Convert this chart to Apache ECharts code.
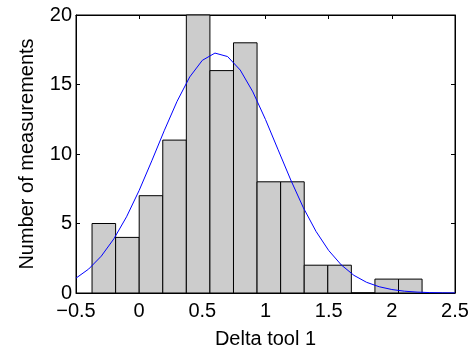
<!DOCTYPE html>
<html>
<head>
<meta charset="utf-8">
<script src="https://cdn.jsdelivr.net/npm/echarts@6/dist/echarts.min.js"></script>
<style>html,body{margin:0;padding:0;background:#fff;}#c{width:474px;height:354px;}</style>
</head>
<body>
<div id="c"></div>
<script>
// Histogram bin edges (15 edges -> 14 bins) and counts
const binEdges = [-0.373, -0.1864, 0.0002, 0.1868, 0.3734, 0.56, 0.7466, 0.9332, 1.1198, 1.3064, 1.493, 1.6796, 1.8662, 2.0528, 2.2394];
const counts = [5, 4, 7, 11, 20, 16, 18, 8, 8, 2, 2, 0, 1, 1];
// Fitted curve
const curveX = [-0.5, -0.4, -0.3, -0.2, -0.1, 0.0, 0.1, 0.2, 0.3, 0.4, 0.5, 0.6, 0.7, 0.8, 0.9, 1.0, 1.1, 1.2, 1.3, 1.4, 1.5, 1.6, 1.7, 1.8, 1.9, 2.0, 2.1, 2.2, 2.3, 2.4, 2.5];
const curveY = [1.07, 1.72, 2.65, 3.90, 5.48, 7.38, 9.51, 11.71, 13.79, 15.54, 16.74, 17.26, 17.01, 16.04, 14.47, 12.48, 10.30, 8.13, 6.13, 4.43, 3.06, 2.02, 1.27, 0.77, 0.45, 0.25, 0.13, 0.066, 0.03, 0.015, 0.006];
const xTicks = { min: -0.5, max: 2.5, interval: 0.5 };
const yTicks = { min: 0, max: 20, interval: 5 };
const xName = 'Delta tool 1';
const yName = 'Number of measurements';

const font = "'Liberation Sans', Arial, Helvetica, sans-serif";
const fs = 20;
const histData = counts.map((c, i) => [binEdges[i], binEdges[i + 1], c]);
const curveData = curveX.map((x, i) => [x, curveY[i]]);
const fmt = v => String(v).replace('-', '\u2212');

const chart = echarts.init(document.getElementById('c'), null, { renderer: 'canvas' });
chart.setOption({
  animation: false,
  backgroundColor: '#fff',
  grid: { left: 76, right: 19, top: 15, bottom: 58, show: true, borderColor: '#000', borderWidth: 1, backgroundColor: 'transparent' },
  xAxis: [{
    type: 'value', min: xTicks.min, max: xTicks.max, interval: xTicks.interval, position: 'bottom',
    name: xName, nameLocation: 'middle', nameGap: 36,
    nameTextStyle: { color: '#000', fontSize: fs, fontFamily: font },
    axisLine: { show: true, onZero: false, lineStyle: { color: '#000', width: 1 } },
    axisTick: { show: true, inside: true, length: 4, lineStyle: { color: '#000' } },
    axisLabel: { color: '#000', fontSize: fs, fontFamily: font, margin: 8, formatter: fmt },
    splitLine: { show: false }
  }, {
    type: 'value', min: xTicks.min, max: xTicks.max, interval: xTicks.interval, position: 'top',
    axisLine: { show: true, onZero: false, lineStyle: { color: '#000', width: 1 } },
    axisTick: { show: true, inside: true, length: 4, lineStyle: { color: '#000' } },
    axisLabel: { show: false }, splitLine: { show: false }
  }],
  yAxis: [{
    type: 'value', min: yTicks.min, max: yTicks.max, interval: yTicks.interval, position: 'left',
    name: yName, nameLocation: 'middle', nameGap: 39, nameRotate: 90,
    nameTextStyle: { color: '#000', fontSize: fs, fontFamily: font },
    axisLine: { show: true, onZero: false, lineStyle: { color: '#000', width: 1 } },
    axisTick: { show: true, inside: true, length: 4, lineStyle: { color: '#000' } },
    axisLabel: { color: '#000', fontSize: fs, fontFamily: font, margin: 4 },
    splitLine: { show: false }
  }, {
    type: 'value', min: yTicks.min, max: yTicks.max, interval: yTicks.interval, position: 'right',
    axisLine: { show: true, onZero: false, lineStyle: { color: '#000', width: 1 } },
    axisTick: { show: true, inside: true, length: 4, lineStyle: { color: '#000' } },
    axisLabel: { show: false }, splitLine: { show: false }
  }],
  series: [{
    type: 'custom',
    xAxisIndex: 0, yAxisIndex: 0,
    data: histData,
    encode: { x: [0, 1], y: 2 },
    renderItem: function (params, api) {
      const p0 = api.coord([api.value(0), api.value(2)]);
      const p1 = api.coord([api.value(1), 0]);
      return {
        type: 'rect',
        shape: { x: p0[0], y: p0[1], width: p1[0] - p0[0], height: p1[1] - p0[1] },
        style: { fill: '#cccccc', stroke: '#000', lineWidth: 1 }
      };
    },
    z: 2
  }, {
    type: 'line',
    xAxisIndex: 0, yAxisIndex: 0,
    data: curveData,
    showSymbol: false,
    symbol: 'none',
    lineStyle: { color: '#0000ff', width: 1 },
    clip: true,
    z: 3
  }]
});
</script>
</body>
</html>
